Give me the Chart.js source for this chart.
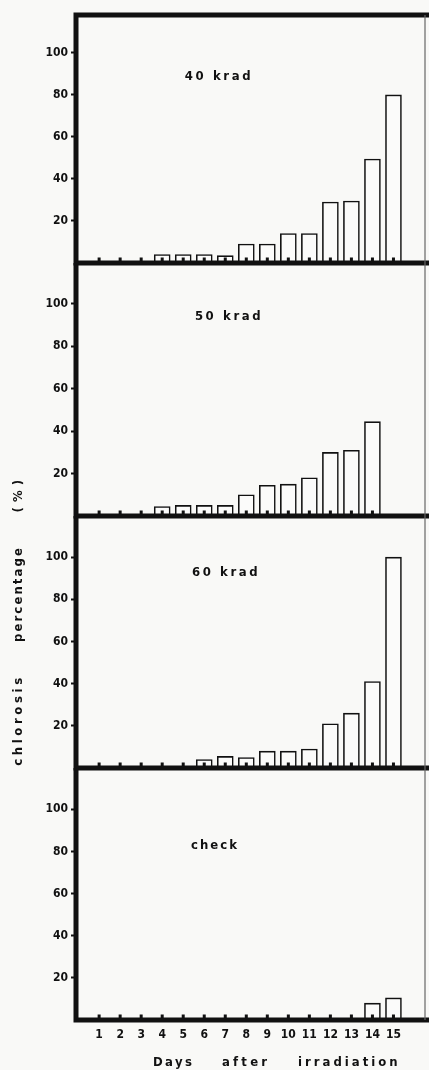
<!DOCTYPE html>
<html>
<head>
<meta charset="utf-8">
<script src="https://cdn.jsdelivr.net/npm/chart.js@4.4.0/dist/chart.umd.min.js"></script>
<style>
  body { margin: 0; background: #f9f9f7; }
  #page { position: relative; width: 429px; height: 1070px; overflow: hidden; }
  canvas { position: absolute; left: 0; }
  .txt {
    position: absolute; white-space: nowrap; color: #111;
    font: bold 13px 'DejaVu Sans Condensed', 'Liberation Sans Narrow', 'DejaVu Sans', sans-serif;
  }
  .ytitle { transform: translate(-50%, -50%) rotate(-90deg); }
</style>
</head>
<body>
<div id="page">
  <canvas id="p0"></canvas>
  <canvas id="p1"></canvas>
  <canvas id="p2"></canvas>
  <canvas id="p3"></canvas>

  <div class="txt ytitle" style="left:17px; top:720px; letter-spacing:3.6px;">chlorosis</div>
  <div class="txt ytitle" style="left:17px; top:594px; letter-spacing:2.1px;">percentage</div>
  <div class="txt ytitle" style="left:17px; top:496px; letter-spacing:0.5px;">( % )</div>

  <div class="txt" style="left:153px; top:1054px; letter-spacing:2.4px;">Days</div>
  <div class="txt" style="left:222px; top:1054px; letter-spacing:3.2px;">after</div>
  <div class="txt" style="left:298px; top:1054px; letter-spacing:3px;">irradiation</div>
</div>
<script>
// values, percent of plants with chlorosis
const days = [1, 2, 3, 4, 5, 6, 7, 8, 9, 10, 11, 12, 13, 14, 15];
const krad40 = [0, 0, 0, 4, 4, 4, 3.5, 9, 9, 14, 14, 29, 29.5, 49.5, 80];
const krad50 = [0, 0, 0, 4.5, 5, 5, 5, 10, 14.5, 15, 18, 30, 31, 44.5, null];
const krad60 = [0, 0, 0, 0, 0, 4, 5.5, 5, 8, 8, 9, 21, 26, 41, 100];
const check = [0, 0, 0, 0, 0, 0, 0, 0, 0, 0, 0, 0, 0, 8, 10.5];
const yTicks = [20, 40, 60, 80, 100];
const panelNames = ['40 krad', '50 krad', '60 krad', 'check'];

// layout of the four stacked panels (page pixels) and where the panel name sits (data units)
const frames = [[15, 263], [263, 516], [516, 768], [768, 1020]];
const yMax = [118, 119.3, 119.5, 119.6];
const nameAt = [[6.7, 88.6], [7.18, 93.9], [7.04, 92.7], [6.51, 82.6]];
const nameSpacing = ['2.6px', '2.6px', '2.6px', '2px'];

const INK = '#111';
const FONT = "'DejaVu Sans Condensed', 'Liberation Sans Narrow', 'DejaVu Sans', sans-serif";
const MARGIN = 12;

const panelFrame = {
    id: 'panelFrame',
    afterDatasetsDraw(chart, args, opts) {
        const { ctx, chartArea: a, scales: { x, y } } = chart;
        ctx.save();

        // little marks on the baseline for every day that was scored
        ctx.fillStyle = INK;
        chart.data.datasets[0].data.forEach(p => {
            if (p.y == null) return;
            const px = x.getPixelForValue(p.x);
            ctx.fillRect(px - 1.5, a.bottom - 5.5, 3, 3.5);
        });

        // heavy frame
        ctx.strokeStyle = INK;
        ctx.lineWidth = 5;
        ctx.beginPath();
        ctx.moveTo(a.left, opts.first ? a.top - 2.5 : a.top);
        ctx.lineTo(a.left, a.bottom + 2.5);
        ctx.moveTo(a.left - 2.5, a.bottom);
        ctx.lineTo(chart.width, a.bottom);
        if (opts.first) {
            ctx.moveTo(a.left - 2.5, a.top);
            ctx.lineTo(chart.width, a.top);
        }
        ctx.stroke();

        ctx.lineWidth = 1.2;
        ctx.strokeStyle = '#666';
        ctx.beginPath();
        ctx.moveTo(a.right, a.top);
        ctx.lineTo(a.right, a.bottom);
        ctx.stroke();

        // panel name
        ctx.fillStyle = INK;
        ctx.font = 'bold 13px ' + FONT;
        ctx.letterSpacing = opts.spacing;
        ctx.textAlign = 'center';
        ctx.textBaseline = 'middle';
        ctx.fillText(opts.text, x.getPixelForValue(opts.at[0]), y.getPixelForValue(opts.at[1]));
        ctx.restore();
    }
};

function makePanel(i, values) {
    const last = i === frames.length - 1;
    const [top, bottom] = frames[i];
    const xh = last ? 1070 - bottom : MARGIN;
    const canvas = document.getElementById('p' + i);
    canvas.width = 429;
    canvas.height = MARGIN + (bottom - top) + xh;
    canvas.style.top = (top - MARGIN) + 'px';

    return new Chart(canvas, {
        type: 'bar',
        data: {
            datasets: [{
                data: days.map((d, j) => ({ x: d, y: values[j] })),
                backgroundColor: '#fbfbfa',
                borderColor: INK,
                borderWidth: 1.6,
                barThickness: 16
            }]
        },
        options: {
            responsive: false,
            animation: false,
            devicePixelRatio: 1,
            layout: { padding: { top: MARGIN, right: 4, left: 0, bottom: 0 } },
            plugins: {
                legend: { display: false },
                tooltip: { enabled: false },
                panelFrame: { first: i === 0, text: panelNames[i], at: nameAt[i], spacing: nameSpacing[i] }
            },
            scales: {
                x: {
                    type: 'linear',
                    min: -0.1,
                    max: 16.5,
                    offset: false,
                    grid: { display: false, drawTicks: false, offset: false },
                    border: { display: false },
                    afterBuildTicks: s => { s.ticks = days.map(v => ({ value: v })); },
                    afterFit: s => { s.height = xh; },
                    ticks: {
                        display: last,
                        autoSkip: false,
                        maxRotation: 0,
                        padding: 8,
                        color: INK,
                        font: { family: FONT, size: 12, weight: 'bold' }
                    }
                },
                y: {
                    min: 0,
                    max: yMax[i],
                    grid: {
                        drawOnChartArea: false,
                        tickLength: 5,
                        tickWidth: 2,
                        tickColor: INK
                    },
                    border: { display: false },
                    afterBuildTicks: s => { s.ticks = yTicks.map(v => ({ value: v })); },
                    afterFit: s => { s.width = 76; },
                    ticks: {
                        padding: 3,
                        color: INK,
                        font: { family: FONT, size: 12, weight: 'bold' }
                    }
                }
            }
        },
        plugins: [panelFrame]
    });
}

makePanel(0, krad40);
makePanel(1, krad50);
makePanel(2, krad60);
makePanel(3, check);
</script>
</body>
</html>
